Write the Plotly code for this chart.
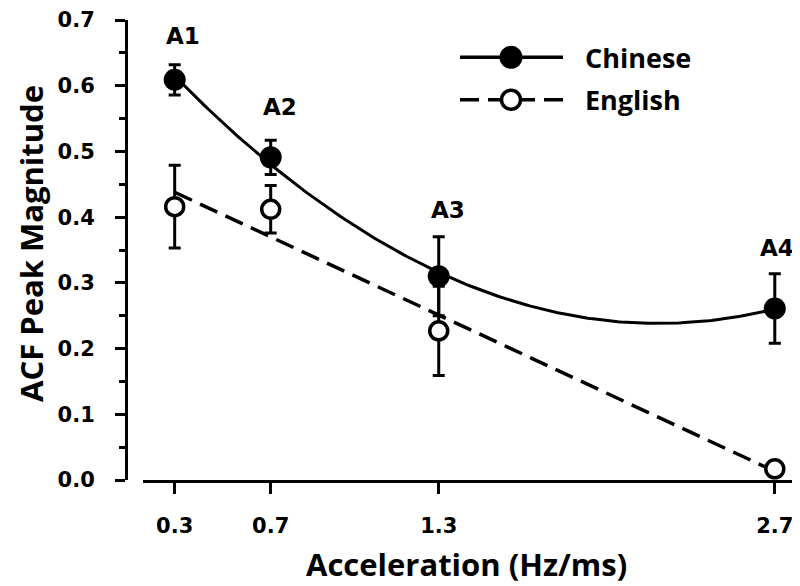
import numpy as np
import plotly.graph_objects as go

# ---- data ----
accel_position = [0.3, 0.7, 1.4, 2.8]          # plotted x positions
accel_labels = ["0.3", "0.7", "1.3", "2.7"]     # tick labels shown
point_labels = ["A1", "A2", "A3", "A4"]
chinese_acf = [0.609, 0.491, 0.310, 0.261]
chinese_err = [0.023, 0.026, 0.060, 0.053]
english_acf = [0.416, 0.412, 0.227, 0.017]
english_err = [0.063, 0.036, 0.068, 0.005]
y_ticks = [0.0, 0.1, 0.2, 0.3, 0.4, 0.5, 0.6, 0.7]

# regression curves (quadratic for Chinese, linear for English)
xs = np.linspace(min(accel_position), max(accel_position), 200)
ch_fit = np.polyval(np.polyfit(accel_position, chinese_acf, 2), xs)
en_fit = np.polyval(np.polyfit(accel_position, english_acf, 1), xs)

TICK_FONT = dict(family="DejaVu Sans", size=21, color="black", weight="bold")
LAB_FONT = dict(family="DejaVu Sans", size=23, color="black", weight="bold")
TITLE_FONT = dict(family="Open Sans", size=31, color="black", weight="bold")
LEG_FONT = dict(family="Open Sans", size=27, color="black", weight="bold")

# page geometry (pixels)
W, H, L, R, T, B = 800, 586, 118, 2, 12, 114
PW, PH = W - L - R, H - T - B


def px(xp):
    return (xp - L) / PW


def py(yp):
    return (H - B - yp) / PH


fig = go.Figure()

fig.add_trace(go.Scatter(x=xs, y=en_fit, mode="lines",
                         line=dict(color="black", width=3.5, dash="19px,9px"),
                         showlegend=False, hoverinfo="skip"))
fig.add_trace(go.Scatter(x=xs, y=ch_fit, mode="lines",
                         line=dict(color="black", width=3),
                         showlegend=False, hoverinfo="skip"))

fig.add_trace(go.Scatter(
    x=accel_position, y=english_acf, mode="markers", name="English",
    marker=dict(symbol="circle", size=18, color="white",
                line=dict(color="black", width=3.5)),
    error_y=dict(type="data", array=english_err, visible=True,
                 color="black", thickness=3, width=6),
    cliponaxis=False, showlegend=False))

fig.add_trace(go.Scatter(
    x=accel_position, y=chinese_acf, mode="markers", name="Chinese",
    marker=dict(symbol="circle", size=22, color="black",
                line=dict(color="black", width=0)),
    error_y=dict(type="data", array=chinese_err, visible=True,
                 color="black", thickness=3, width=6),
    cliponaxis=False, showlegend=False))

# point labels A1..A4 above the Chinese error bars
x_shifts = [8, 9, 9, 2]
y_shifts = [29, 33, 27, 26]
for i, lab in enumerate(point_labels):
    fig.add_annotation(x=accel_position[i], y=chinese_acf[i] + chinese_err[i],
                       text=lab, showarrow=False, font=LAB_FONT,
                       xanchor="center", yanchor="middle",
                       xshift=x_shifts[i], yshift=y_shifts[i])

# axis titles
fig.add_annotation(xref="paper", yref="paper", x=px(23), y=py(236),
                   text="ACF Peak Magnitude", textangle=-90, showarrow=False,
                   font=TITLE_FONT, xanchor="center", yanchor="middle")
fig.add_annotation(xref="paper", yref="paper", x=px(458), y=py(556),
                   text="Acceleration (Hz/ms)", showarrow=False,
                   font=TITLE_FONT, xanchor="center", yanchor="middle")

# custom legend
for yrow, name, dash, fill in [(49.3, "Chinese", "solid", "black"),
                               (91.7, "English", "19px,9px", "white")]:
    fig.add_shape(type="line", xref="paper", yref="paper",
                  x0=px(452), x1=px(555), y0=py(yrow), y1=py(yrow),
                  line=dict(color="black", width=3.5, dash=dash))
    r = 11.5 if fill == "black" else 9.5
    fig.add_shape(type="circle", xref="paper", yref="paper",
                  xsizemode="pixel", ysizemode="pixel",
                  xanchor=px(503), yanchor=py(yrow),
                  x0=-r, x1=r, y0=-r, y1=r,
                  fillcolor=fill,
                  line=dict(color="black", width=0 if fill == "black" else 3.5))
    fig.add_annotation(xref="paper", yref="paper", x=px(575), y=py(yrow),
                       text=name, showarrow=False, font=LEG_FONT,
                       xanchor="left", yanchor="middle")

fig.update_layout(
    width=W, height=H,
    margin=dict(l=L, r=R, t=T, b=B, autoexpand=False),
    paper_bgcolor="white", plot_bgcolor="white",
    showlegend=False,
    xaxis=dict(domain=[0.025, 1], range=[0.168, 2.93],
               tickmode="array", tickvals=accel_position, ticktext=accel_labels,
               showline=True, linewidth=3, linecolor="black",
               ticks="outside", ticklen=11, tickwidth=3, tickcolor="black",
               tickfont=TICK_FONT, ticklabelstandoff=14,
               showgrid=False, zeroline=False),
    yaxis=dict(anchor="free", position=0, range=[0, 0.70001],
               tickmode="array", tickvals=y_ticks,
               ticktext=[f"{v:.1f}" for v in y_ticks],
               ticklabeloverflow="allow",
               showline=True, linewidth=3, linecolor="black",
               ticks="outside", ticklen=10, tickwidth=3, tickcolor="black",
               minor=dict(dtick=0.05, tick0=0, ticks="outside", ticklen=6,
                          tickwidth=3, tickcolor="black"),
               tickfont=TICK_FONT, ticklabelstandoff=16,
               showgrid=False, zeroline=False),
)

fig.write_html("out.html")
